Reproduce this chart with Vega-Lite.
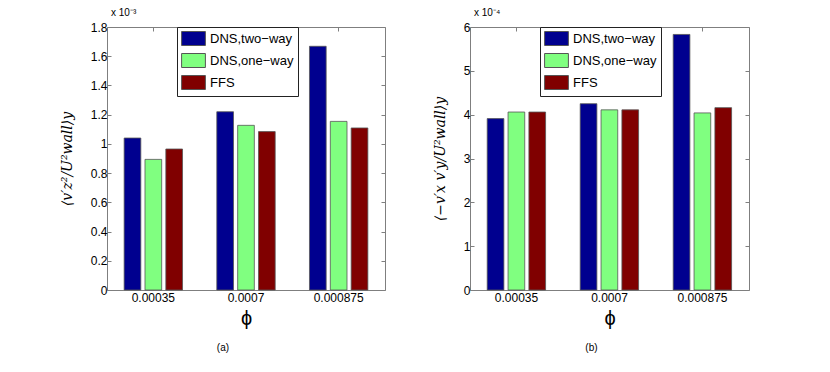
{
  "$schema": "https://vega.github.io/schema/vega-lite/v6.json",
  "background": "white",
  "padding": {"left": 59, "top": 7, "right": 0, "bottom": 0},
  "config": {
    "font": "Liberation Sans",
    "view": {"stroke": "#7f7f7f", "strokeWidth": 1},
    "axis": {"grid": false, "domain": false, "tickColor": "#7f7f7f", "tickSize": -4, "labelFontSize": 12, "labelColor": "#000", "labelFont": "Liberation Sans", "titleColor": "#000", "titleFontWeight": "normal"},
    "legend": {"strokeColor": "#222", "fillColor": "white", "padding": 4, "symbolType": "M-1.7,-1H1.7V1H-1.7Z", "symbolSize": 196, "labelFontSize": 13, "labelFont": "Liberation Sans", "labelColor": "#000", "rowPadding": 3, "symbolStrokeColor": "#555", "symbolStrokeWidth": 1, "symbolOffset": 5, "labelOffset": 9, "cornerRadius": 0},
    "title": {"fontWeight": "normal", "color": "#000"}
  },
  "datasets": {
    "a": [
      {"phi": "0.00035", "series": "DNS,two−way", "value": 1.04},
      {"phi": "0.00035", "series": "DNS,one−way", "value": 0.894},
      {"phi": "0.00035", "series": "FFS", "value": 0.965},
      {"phi": "0.0007", "series": "DNS,two−way", "value": 1.22},
      {"phi": "0.0007", "series": "DNS,one−way", "value": 1.127},
      {"phi": "0.0007", "series": "FFS", "value": 1.084},
      {"phi": "0.000875", "series": "DNS,two−way", "value": 1.668},
      {"phi": "0.000875", "series": "DNS,one−way", "value": 1.154},
      {"phi": "0.000875", "series": "FFS", "value": 1.109}
    ],
    "b": [
      {"phi": "0.00035", "series": "DNS,two−way", "value": 3.91},
      {"phi": "0.00035", "series": "DNS,one−way", "value": 4.06},
      {"phi": "0.00035", "series": "FFS", "value": 4.06},
      {"phi": "0.0007", "series": "DNS,two−way", "value": 4.25},
      {"phi": "0.0007", "series": "DNS,one−way", "value": 4.11},
      {"phi": "0.0007", "series": "FFS", "value": 4.11},
      {"phi": "0.000875", "series": "DNS,two−way", "value": 5.83},
      {"phi": "0.000875", "series": "DNS,one−way", "value": 4.04},
      {"phi": "0.000875", "series": "FFS", "value": 4.16}
    ]
  },
  "spacing": 46,
  "resolve": {"legend": {"color": "independent"}},
  "hconcat": [
    {
      "title": {"text": "(a)", "orient": "bottom", "fontSize": 10, "offset": 14, "anchor": "middle"},
      "vconcat": [
        {
          "title": {"text": "x 10⁻³", "anchor": "start", "fontSize": 10, "offset": 3, "frame": "group", "dx": 4},
          "width": 278,
          "height": 263,
          "data": {"name": "a"},
          "resolve": {"axis": {"y": "independent", "x": "independent"}},
          "layer": [
            {
              "mark": {"type": "bar", "stroke": "#555", "strokeWidth": 0.8},
              "encoding": {
                "x": {"field": "phi", "type": "nominal", "sort": ["0.00035", "0.0007", "0.000875"], "scale": {"paddingInner": 0.37, "paddingOuter": 0.185}, "axis": {"labelAngle": 0, "labelPadding": 6, "title": "ϕ", "titleFontSize": 20, "titlePadding": 5}},
                "xOffset": {"field": "series", "sort": ["DNS,two−way", "DNS,one−way", "FFS"], "scale": {"paddingInner": 0.2, "paddingOuter": 0}},
                "y": {"field": "value", "type": "quantitative", "scale": {"domain": [0, 1.8], "nice": false}, "axis": {"values": [0, 0.2, 0.4, 0.6, 0.8, 1, 1.2, 1.4, 1.6, 1.8], "format": ".1~f", "labelPadding": 4, "title": "⟨v′z²/U²wall⟩y", "titleFont": "DejaVu Serif", "titleFontStyle": "italic", "titleFontSize": 14, "titlePadding": 16}},
                "color": {"field": "series", "type": "nominal", "sort": ["DNS,two−way", "DNS,one−way", "FFS"], "scale": {"domain": ["DNS,two−way", "DNS,one−way", "FFS"], "range": ["#00008F", "#80FF80", "#800000"]}, "legend": {"title": null, "orient": "none", "legendX": 70, "legendY": 0}}
              }
            },
            {
              "mark": {"type": "tick", "opacity": 0},
              "encoding": {
                "x": {"field": "phi", "type": "nominal", "sort": ["0.00035", "0.0007", "0.000875"], "axis": {"orient": "top", "labels": false, "title": null}},
                "y": {"field": "value", "type": "quantitative", "axis": {"orient": "right", "labels": false, "title": null, "values": [0, 0.2, 0.4, 0.6, 0.8, 1, 1.2, 1.4, 1.6, 1.8]}}
              }
            }
          ]
        }
      ]
    },
    {
      "title": {"text": "(b)", "orient": "bottom", "fontSize": 10, "offset": 14, "anchor": "middle"},
      "vconcat": [
        {
          "title": {"text": "x 10⁻⁴", "anchor": "start", "fontSize": 10, "offset": 3, "frame": "group", "dx": 4},
          "width": 279,
          "height": 263,
          "data": {"name": "b"},
          "resolve": {"axis": {"y": "independent", "x": "independent"}},
          "layer": [
            {
              "mark": {"type": "bar", "stroke": "#555", "strokeWidth": 0.8},
              "encoding": {
                "x": {"field": "phi", "type": "nominal", "sort": ["0.00035", "0.0007", "0.000875"], "scale": {"paddingInner": 0.37, "paddingOuter": 0.185}, "axis": {"labelAngle": 0, "labelPadding": 6, "title": "ϕ", "titleFontSize": 20, "titlePadding": 5}},
                "xOffset": {"field": "series", "sort": ["DNS,two−way", "DNS,one−way", "FFS"], "scale": {"paddingInner": 0.2, "paddingOuter": 0}},
                "y": {"field": "value", "type": "quantitative", "scale": {"domain": [0, 6], "nice": false}, "axis": {"values": [0, 1, 2, 3, 4, 5, 6], "format": "d", "labelPadding": 4, "title": "⟨−v′x v′y/U²wall⟩y", "titleFont": "DejaVu Serif", "titleFontStyle": "italic", "titleFontSize": 14, "titlePadding": 16}},
                "color": {"field": "series", "type": "nominal", "sort": ["DNS,two−way", "DNS,one−way", "FFS"], "scale": {"domain": ["DNS,two−way", "DNS,one−way", "FFS"], "range": ["#00008F", "#80FF80", "#800000"]}, "legend": {"title": null, "orient": "none", "legendX": 70, "legendY": 0}}
              }
            },
            {
              "mark": {"type": "tick", "opacity": 0},
              "encoding": {
                "x": {"field": "phi", "type": "nominal", "sort": ["0.00035", "0.0007", "0.000875"], "axis": {"orient": "top", "labels": false, "title": null}},
                "y": {"field": "value", "type": "quantitative", "axis": {"orient": "right", "labels": false, "title": null, "values": [0, 1, 2, 3, 4, 5, 6]}}
              }
            }
          ]
        }
      ]
    }
  ]
}
